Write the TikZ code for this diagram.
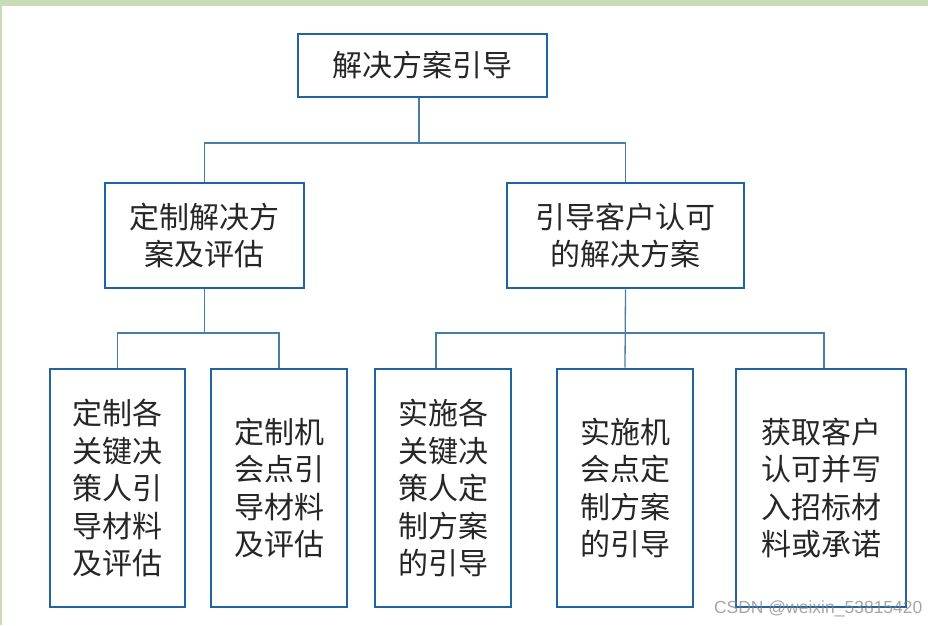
\documentclass[tikz,border=0pt]{standalone}
\usepackage{fontspec}
\newfontfamily\cjk{Noto Sans CJK SC}
\newfontfamily\markfont{Liberation Sans}
\usetikzlibrary{calc}
\definecolor{boxblue}{HTML}{2065A3}
\definecolor{linkblue}{HTML}{4A7DA6}
\definecolor{framegreen}{HTML}{C8DDB6}
\tikzset{
  item/.style={draw=boxblue,line width=2.6pt,fill=white,inner sep=0pt,align=center,text=black!85,
    font={\cjk\fontsize{30}{37.5}\selectfont}},
  link/.style={draw=linkblue,line width=1.3pt},
}
\begin{document}
\begin{tikzpicture}[x=1pt,y=-1pt]
  \useasboundingbox (0,0) rectangle (928,625);
  \fill[white] (0,0) rectangle (928,625);
  \fill[framegreen] (0,0) rectangle (928,6);
  \fill[framegreen] (0,0) rectangle (2,625);

  % top and middle level
  \node[item,minimum width=249pt,minimum height=63pt] (root) at (422.5,65.5) {解决方案引导};
  \node[item,minimum width=199pt,minimum height=105pt] (custom) at (204.5,235.5) {定制解决方\\案及评估};
  \node[item,minimum width=237pt,minimum height=105pt] (accept) at (625.5,235.5) {引导客户认可\\的解决方案};

  % bottom level
  \node[item,minimum width=135pt,minimum height=238pt] (keymat) at (117.5,488) {定制各\\关键决\\策人引\\导材料\\及评估};
  \node[item,minimum width=136pt,minimum height=238pt] (optmat) at (279,488) {定制机\\会点引\\导材料\\及评估};
  \node[item,minimum width=136pt,minimum height=238pt] (keyrun) at (443,488) {实施各\\关键决\\策人定\\制方案\\的引导};
  \node[item,minimum width=136pt,minimum height=238pt] (optrun) at (625,488) {实施机\\会点定\\制方案\\的引导};
  \node[item,minimum width=170pt,minimum height=238pt] (bid) at (821,488) {获取客户\\认可并写\\入招标材\\料或承诺};

  \coordinate (bus0) at (419,143);
  \coordinate (bus1) at (204.5,333);
  \coordinate (bus2) at (625.5,333);

  \draw[link] (bus0 |- root.south) -- (bus0);
  \draw[link] (custom.north) |- (bus0) -| (accept.north);

  \draw[link] (custom.south) -- (bus1);
  \draw[link] (keymat.north) |- (bus1) -| (optmat.north);

  \draw[link] (accept.south) -- (optrun.north);
  \draw[link] ([xshift=-7pt]keyrun.north) |- (bus2) -| ([xshift=3pt]bid.north);

  \node[text=gray,opacity=0.7,font={\markfont\fontsize{17.5}{20}\selectfont},anchor=east] (mark) at (926,609) {CSDN @weixin\_53815420};
\end{tikzpicture}
\end{document}
